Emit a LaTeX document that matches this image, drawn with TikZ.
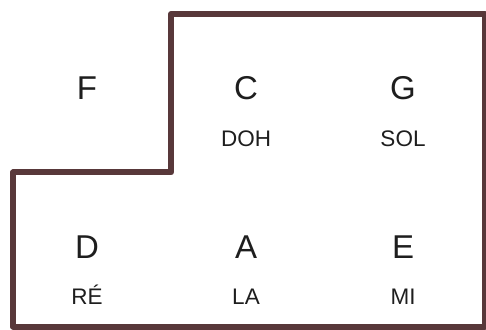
\documentclass[tikz,border=0pt]{standalone}
\usepackage{fontspec}
\setmainfont{Liberation Sans}
\usetikzlibrary{positioning}
\definecolor{wall}{RGB}{88,56,58}
\definecolor{ink}{RGB}{30,30,30}

\begin{document}
\begin{tikzpicture}[x=1pt,y=1pt,
  note/.style={anchor=base,text=ink,inner sep=0pt,font=\fontsize{33}{33}\selectfont},
  solfa/.style={anchor=base,text=ink,inner sep=0pt,font=\fontsize{22.5}{22.5}\selectfont}]
\useasboundingbox (0,0) rectangle (486,329);
\draw[wall,line width=6pt,line join=round,line cap=round]
  (13,2.5) -- (13,156.5) -- (171,156.5) -- (171,315) -- (485,315) -- (485,2.5) -- cycle;
% top row
\foreach \n/\x in {F/87,C/246,G/403} \node[note] (\n) at (\x,229) {\n};
\node[solfa] (doh) at (246,182) {DOH};
\node[solfa] (sol) at (403,182) {SOL};
% bottom row
\foreach \n/\x in {D/87,A/246,E/403} \node[note] (\n) at (\x,71) {\n};
\node[solfa] (re) at (87,25) {RÉ};
\node[solfa] (la) at (246,25) {LA};
\node[solfa] (mi) at (403,25) {MI};
\end{tikzpicture}
\end{document}
